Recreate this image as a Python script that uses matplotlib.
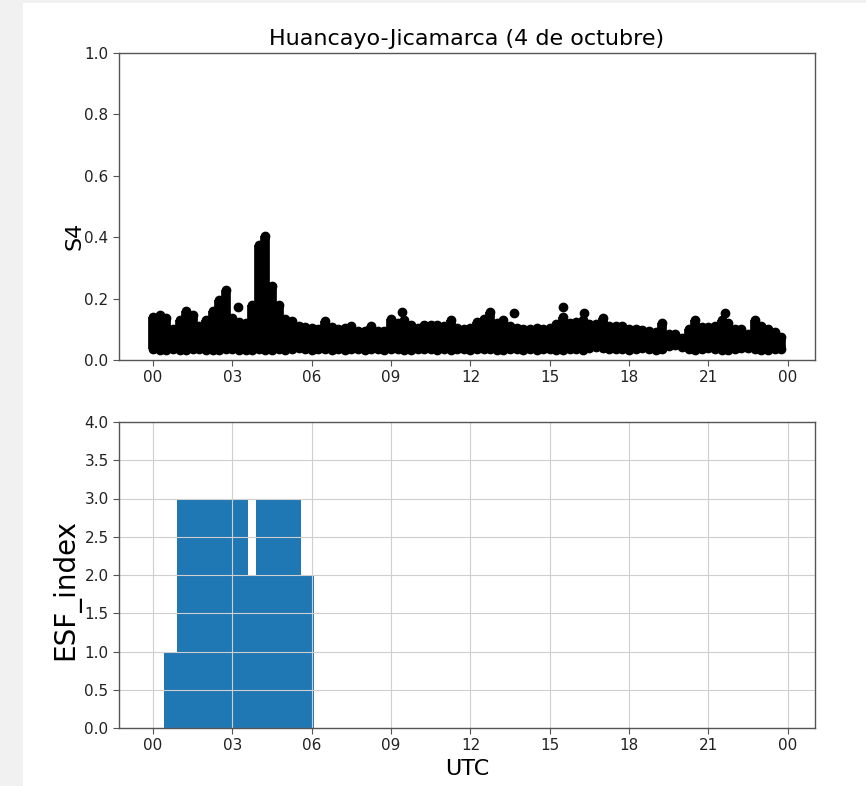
import numpy as np
import matplotlib
matplotlib.use("Agg")
import matplotlib.pyplot as plt
from matplotlib.patches import Rectangle

# ---- S4 scintillation index, Huancayo-Jicamarca, 15-minute bins (hours UTC) ----
s4_time = np.arange(96) * 0.25

# highest S4 value within each bin
s4_max = [
    0.140, 0.148, 0.138, 0.100, 0.130, 0.160, 0.145, 0.110, 0.130, 0.160, 0.195, 0.228,
    0.138, 0.125, 0.122, 0.180, 0.375, 0.405, 0.240, 0.178, 0.133, 0.128, 0.110, 0.106,
    0.104, 0.100, 0.128, 0.106, 0.100, 0.105, 0.110, 0.095, 0.095, 0.110, 0.096, 0.096,
    0.133, 0.120, 0.130, 0.115, 0.105, 0.113, 0.113, 0.113, 0.110, 0.130, 0.105, 0.100,
    0.105, 0.125, 0.133, 0.155, 0.120, 0.130, 0.110, 0.105, 0.100, 0.100, 0.105, 0.100,
    0.105, 0.117, 0.140, 0.120, 0.125, 0.130, 0.117, 0.117, 0.136, 0.111, 0.111, 0.111,
    0.100, 0.100, 0.098, 0.096, 0.092, 0.120, 0.085, 0.084, 0.073, 0.100, 0.130, 0.106,
    0.106, 0.110, 0.130, 0.120, 0.100, 0.100, 0.085, 0.130, 0.110, 0.100, 0.090, 0.075,
]

# lowest S4 value within each bin
s4_min = [
    0.035, 0.033, 0.032, 0.036, 0.034, 0.032, 0.035, 0.037, 0.033, 0.032, 0.034, 0.036,
    0.035, 0.033, 0.032, 0.034, 0.036, 0.033, 0.032, 0.035, 0.034, 0.036, 0.038, 0.035,
    0.034, 0.036, 0.035, 0.033, 0.036, 0.034, 0.035, 0.037, 0.034, 0.036, 0.035, 0.033,
    0.035, 0.036, 0.034, 0.033, 0.035, 0.037, 0.036, 0.034, 0.035, 0.033, 0.036, 0.035,
    0.034, 0.036, 0.035, 0.037, 0.034, 0.033, 0.036, 0.035, 0.034, 0.036, 0.033, 0.035,
    0.036, 0.034, 0.033, 0.035, 0.036, 0.034, 0.040, 0.042, 0.038, 0.036, 0.035, 0.037,
    0.034, 0.036, 0.038, 0.035, 0.033, 0.036, 0.045, 0.048, 0.042, 0.036, 0.034, 0.035,
    0.038, 0.036, 0.033, 0.032, 0.035, 0.038, 0.040, 0.036, 0.034, 0.033, 0.035, 0.037,
]

# isolated high samples standing above the bulk
s4_peak_time = [3.20, 9.43, 13.65, 15.51, 16.30, 21.63]
s4_peak_value = [0.172, 0.155, 0.152, 0.174, 0.152, 0.154]

# ---- Equatorial spread-F index from the ionosonde ----
esf_time = [0.75, 1.25, 1.75, 2.25, 2.75, 3.25, 3.75, 4.25, 4.75, 5.25, 5.75]
esf_value = [1, 3, 3, 3, 3, 3, 2, 3, 3, 3, 2]

hour_ticks = [0, 3, 6, 9, 12, 15, 18, 21, 24]
hour_labels = ["00", "03", "06", "09", "12", "15", "18", "21", "00"]

plt.rcParams["font.family"] = ["DejaVu Sans"]
spine_color = "#555555"

fig = plt.figure(figsize=(8.66, 7.86), dpi=100, facecolor="#f1f1f1")
fig.patches.append(Rectangle((22.7 / 866, 0), 1 - 22.7 / 866, 1 - 2.7 / 786,
                             transform=fig.transFigure, facecolor="white",
                             edgecolor="none", zorder=-10))

ax1 = fig.add_axes([119 / 866, 1 - 360 / 786, 696 / 866, 307 / 786])
ax2 = fig.add_axes([119 / 866, 1 - 728 / 786, 696 / 866, 306 / 786])

# S4: each bin spans from its lowest to its highest sample
marker_pt = 6.0
ax1.vlines(s4_time, s4_min, s4_max, colors="black", linewidth=marker_pt + 1.0)
ax1.scatter(s4_time, s4_max, s=marker_pt ** 2, color="black", zorder=3)
ax1.scatter(s4_time, s4_min, s=marker_pt ** 2, color="black", zorder=3)
ax1.scatter(s4_peak_time, s4_peak_value, s=marker_pt ** 2, color="black", zorder=3)
ax1.set_ylim(0, 1.0)
ax1.set_yticks(np.linspace(0, 1, 6))
ax1.set_ylabel("S4", fontsize=16)
ax1.yaxis.set_label_coords(-0.050, 0.404)
ax1.set_title("Huancayo-Jicamarca (4 de octubre)", fontsize=16, pad=6)

# ESF index bars
ax2.bar(esf_time, esf_value, width=0.7, color="#1f77b4", zorder=1)
ax2.set_ylim(0, 4.0)
ax2.set_yticks(np.arange(0, 4.01, 0.5))
ax2.grid(True, color="#cfcfcf", linewidth=0.8)
ax2.set_ylabel("ESF_index", fontsize=20)
ax2.yaxis.set_label_coords(-0.056, 0.451)
ax2.set_xlabel("UTC", fontsize=16)

for ax in (ax1, ax2):
    ax.set_xlim(-1.29, 25.03)
    ax.set_xticks(hour_ticks)
    ax.set_xticklabels(hour_labels)
    ax.tick_params(labelsize=11, color=spine_color, length=4, labelcolor="#222222")
    for sp in ax.spines.values():
        sp.set_color(spine_color)
        sp.set_linewidth(1.0)

fig.savefig("out.png", dpi=100, facecolor=fig.get_facecolor())
